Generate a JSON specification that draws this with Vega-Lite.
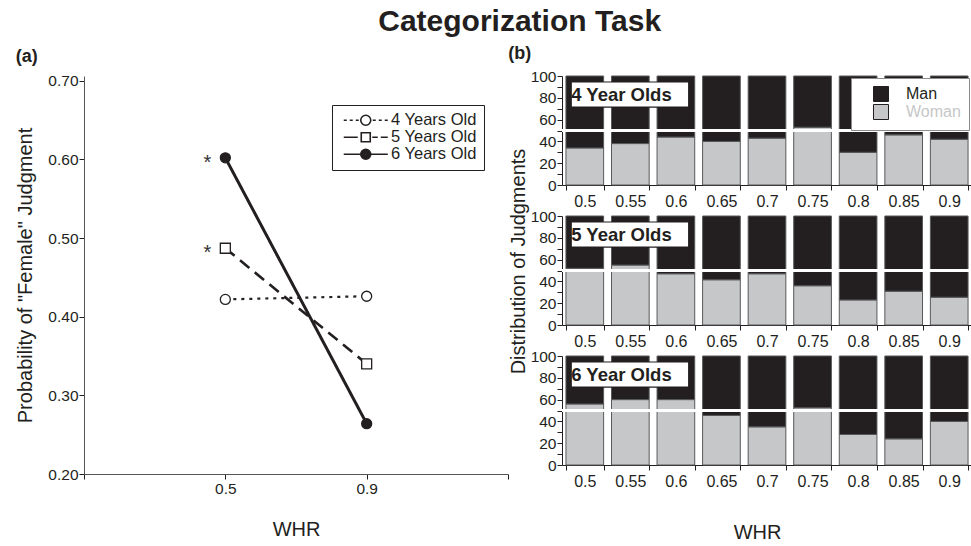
{
  "$schema": "https://vega.github.io/schema/vega-lite/v6.json",
  "background": "white",
  "padding": {"left": 15, "top": 7, "right": 0, "bottom": 0},
  "config": {
    "font": "Liberation Sans",
    "view": {"stroke": null},
    "axis": {
      "labelFont": "Liberation Sans", "titleFont": "Liberation Sans",
      "labelColor": "#231f20", "titleColor": "#231f20",
      "domainColor": "#231f20", "tickColor": "#231f20",
      "grid": false, "labelFontSize": 15.5, "titleFontSize": 20,
      "titleFontWeight": "normal", "tickSize": 5, "labelOverlap": false
    },
    "axisY": {"labelOverlap": false},
    "axisQuantitative": {"labelOverlap": false},
    "legend": {"labelFont": "Liberation Sans", "labelColor": "#231f20"},
    "title": {"font": "Liberation Sans", "color": "#231f20"}
  },
  "title": {"text": "Categorization Task", "fontSize": 30, "fontWeight": "bold", "anchor": "middle", "dx": 25, "offset": 8},
  "datasets": {
    "means": [
      {"age": "4 Years Old", "whr": 0.5, "p": 0.422, "sig": ""},
      {"age": "4 Years Old", "whr": 0.9, "p": 0.426, "sig": ""},
      {"age": "5 Years Old", "whr": 0.5, "p": 0.487, "sig": "*"},
      {"age": "5 Years Old", "whr": 0.9, "p": 0.340, "sig": ""},
      {"age": "6 Years Old", "whr": 0.5, "p": 0.602, "sig": "*"},
      {"age": "6 Years Old", "whr": 0.9, "p": 0.264, "sig": ""}
    ],
    "dist": [
      {"age": "4 Year Olds", "whr": "0.5", "gender": "Woman", "pct": 34},
      {"age": "4 Year Olds", "whr": "0.5", "gender": "Man", "pct": 66},
      {"age": "4 Year Olds", "whr": "0.55", "gender": "Woman", "pct": 38},
      {"age": "4 Year Olds", "whr": "0.55", "gender": "Man", "pct": 62},
      {"age": "4 Year Olds", "whr": "0.6", "gender": "Woman", "pct": 44},
      {"age": "4 Year Olds", "whr": "0.6", "gender": "Man", "pct": 56},
      {"age": "4 Year Olds", "whr": "0.65", "gender": "Woman", "pct": 40},
      {"age": "4 Year Olds", "whr": "0.65", "gender": "Man", "pct": 60},
      {"age": "4 Year Olds", "whr": "0.7", "gender": "Woman", "pct": 43},
      {"age": "4 Year Olds", "whr": "0.7", "gender": "Man", "pct": 57},
      {"age": "4 Year Olds", "whr": "0.75", "gender": "Woman", "pct": 53},
      {"age": "4 Year Olds", "whr": "0.75", "gender": "Man", "pct": 47},
      {"age": "4 Year Olds", "whr": "0.8", "gender": "Woman", "pct": 30},
      {"age": "4 Year Olds", "whr": "0.8", "gender": "Man", "pct": 70},
      {"age": "4 Year Olds", "whr": "0.85", "gender": "Woman", "pct": 46},
      {"age": "4 Year Olds", "whr": "0.85", "gender": "Man", "pct": 54},
      {"age": "4 Year Olds", "whr": "0.9", "gender": "Woman", "pct": 42},
      {"age": "4 Year Olds", "whr": "0.9", "gender": "Man", "pct": 58},
      {"age": "5 Year Olds", "whr": "0.5", "gender": "Woman", "pct": 52},
      {"age": "5 Year Olds", "whr": "0.5", "gender": "Man", "pct": 48},
      {"age": "5 Year Olds", "whr": "0.55", "gender": "Woman", "pct": 55},
      {"age": "5 Year Olds", "whr": "0.55", "gender": "Man", "pct": 45},
      {"age": "5 Year Olds", "whr": "0.6", "gender": "Woman", "pct": 47},
      {"age": "5 Year Olds", "whr": "0.6", "gender": "Man", "pct": 53},
      {"age": "5 Year Olds", "whr": "0.65", "gender": "Woman", "pct": 41.5},
      {"age": "5 Year Olds", "whr": "0.65", "gender": "Man", "pct": 58.5},
      {"age": "5 Year Olds", "whr": "0.7", "gender": "Woman", "pct": 47},
      {"age": "5 Year Olds", "whr": "0.7", "gender": "Man", "pct": 53},
      {"age": "5 Year Olds", "whr": "0.75", "gender": "Woman", "pct": 36},
      {"age": "5 Year Olds", "whr": "0.75", "gender": "Man", "pct": 64},
      {"age": "5 Year Olds", "whr": "0.8", "gender": "Woman", "pct": 23},
      {"age": "5 Year Olds", "whr": "0.8", "gender": "Man", "pct": 77},
      {"age": "5 Year Olds", "whr": "0.85", "gender": "Woman", "pct": 31},
      {"age": "5 Year Olds", "whr": "0.85", "gender": "Man", "pct": 69},
      {"age": "5 Year Olds", "whr": "0.9", "gender": "Woman", "pct": 25.5},
      {"age": "5 Year Olds", "whr": "0.9", "gender": "Man", "pct": 74.5},
      {"age": "6 Year Olds", "whr": "0.5", "gender": "Woman", "pct": 56},
      {"age": "6 Year Olds", "whr": "0.5", "gender": "Man", "pct": 44},
      {"age": "6 Year Olds", "whr": "0.55", "gender": "Woman", "pct": 60},
      {"age": "6 Year Olds", "whr": "0.55", "gender": "Man", "pct": 40},
      {"age": "6 Year Olds", "whr": "0.6", "gender": "Woman", "pct": 60},
      {"age": "6 Year Olds", "whr": "0.6", "gender": "Man", "pct": 40},
      {"age": "6 Year Olds", "whr": "0.65", "gender": "Woman", "pct": 45.5},
      {"age": "6 Year Olds", "whr": "0.65", "gender": "Man", "pct": 54.5},
      {"age": "6 Year Olds", "whr": "0.7", "gender": "Woman", "pct": 35},
      {"age": "6 Year Olds", "whr": "0.7", "gender": "Man", "pct": 65},
      {"age": "6 Year Olds", "whr": "0.75", "gender": "Woman", "pct": 52.5},
      {"age": "6 Year Olds", "whr": "0.75", "gender": "Man", "pct": 47.5},
      {"age": "6 Year Olds", "whr": "0.8", "gender": "Woman", "pct": 28},
      {"age": "6 Year Olds", "whr": "0.8", "gender": "Man", "pct": 72},
      {"age": "6 Year Olds", "whr": "0.85", "gender": "Woman", "pct": 24},
      {"age": "6 Year Olds", "whr": "0.85", "gender": "Man", "pct": 76},
      {"age": "6 Year Olds", "whr": "0.9", "gender": "Woman", "pct": 40},
      {"age": "6 Year Olds", "whr": "0.9", "gender": "Man", "pct": 60}
    ]
  },
  "concat": [
    {
      "width": 424,
      "height": 398,
      "title": {"text": "(a)", "anchor": "start", "fontSize": 18, "fontWeight": "bold", "offset": 8},
      "data": {"name": "means"},
      "encoding": {
        "x": {"field": "whr", "type": "quantitative", "scale": {"domain": [0.1, 1.3]},
          "axis": {"values": [0.1, 0.5, 0.9, 1.3], "labelExpr": "datum.value == 0.5 || datum.value == 0.9 ? datum.label : ''", "title": "WHR", "labelPadding": 2, "titlePadding": 23, "domainColor": "#555", "labelFlush": false, "labelOverlap": false}},
        "y": {"field": "p", "type": "quantitative", "scale": {"domain": [0.2, 0.706], "nice": false},
          "axis": {"values": [0.2, 0.3, 0.4, 0.5, 0.6, 0.7], "format": ".2f", "title": "Probability of \"Female\" Judgment", "labelPadding": 1, "titlePadding": 12, "domainColor": "#555", "labelOverlap": false}}
      },
      "layer": [
        {
          "mark": {"type": "line", "color": "#231f20"},
          "encoding": {
            "detail": {"field": "age"},
            "strokeDash": {"field": "age", "type": "nominal", "scale": {"domain": ["4 Years Old", "5 Years Old", "6 Years Old"], "range": [[3, 5], [12, 7], [1, 0]]}, "legend": null},
            "strokeWidth": {"field": "age", "type": "nominal", "scale": {"domain": ["4 Years Old", "5 Years Old", "6 Years Old"], "range": [2.2, 3, 2.5]}, "legend": null}
          }
        },
        {
          "mark": {"type": "point", "filled": true, "stroke": "#231f20", "strokeWidth": 1.3, "size": 100, "opacity": 1},
          "encoding": {
            "shape": {"field": "age", "type": "nominal", "scale": {"domain": ["4 Years Old", "5 Years Old", "6 Years Old"], "range": ["circle", "square", "circle"]}, "legend": null},
            "fill": {"field": "age", "type": "nominal", "scale": {"domain": ["4 Years Old", "5 Years Old", "6 Years Old"], "range": ["white", "white", "#231f20"]}, "legend": null}
          }
        },
        {
          "transform": [{"filter": "datum.sig === '*'"}],
          "mark": {"type": "text", "fontSize": 20, "color": "#333", "dx": -18, "dy": 5, "baseline": "middle"},
          "encoding": {"text": {"field": "sig"}}
        },
        {
          "mark": {"type": "point", "filled": false, "opacity": 0, "stroke": "#231f20", "strokeWidth": 1.6},
          "encoding": {
            "shape": {"field": "age", "type": "nominal",
              "scale": {"domain": ["4 Years Old", "5 Years Old", "6 Years Old"],
                "range": [
                  "M-4.4,0h0.6M-3.2,0h0.6M-2,0h0.6M1.4,0h0.6M2.6,0h0.6M3.8,0h0.6M-1,0a1,1 0 1,0 2,0a1,1 0 1,0 -2,0",
                  "M-4.4,0h2.8M-0.9,-0.9h1.8v1.8h-1.8zM1.3,0h1.1M3,0h1.4",
                  "M-4.4,0h3.4M1,0h3.4M-1,0a1,1 0 1,0 2,0a1,1 0 1,0 -2,0M-0.7,0a0.7,0.7 0 1,0 1.4,0a0.7,0.7 0 1,0 -1.4,0M-0.4,0a0.4,0.4 0 1,0 0.8,0a0.4,0.4 0 1,0 -0.8,0M-0.12,0a0.12,0.12 0 1,0 0.24,0a0.12,0.12 0 1,0 -0.24,0"
                ]},
              "legend": {"orient": "none", "legendX": 248, "legendY": 29, "title": null, "symbolSize": 100, "symbolOpacity": 1, "symbolStrokeColor": "#231f20", "symbolStrokeWidth": 1.6, "labelFontSize": 16.5, "padding": 7, "rowPadding": -3, "symbolOffset": 18.5, "labelOffset": 17, "fillColor": "white", "strokeColor": "#231f20"}}
          }
        }
      ],
      "resolve": {"scale": {"shape": "independent", "fill": "independent"}}
    },
    {
      "title": {"text": "(b)", "anchor": "start", "fontSize": 18, "fontWeight": "bold", "offset": 6},
      "spacing": 31,
      "bounds": "flush",
      "resolve": {"scale": {"color": "independent"}},
      "vconcat": [
        {
          "width": 410, "height": 109,
          "layer": [
            {
              "data": {"name": "dist"},
              "transform": [{"filter": "datum.age === '4 Year Olds'"}],
              "mark": {"type": "bar", "stroke": "#58595b", "strokeWidth": 1},
              "encoding": {
                "x": {"field": "whr", "type": "ordinal", "scale": {"paddingInner": 0.173, "paddingOuter": 0.0865}, "axis": {"title": null, "tickBand": "extent", "labelAngle": 0, "labelPadding": 3, "labelFontSize": 16}},
                "y": {"field": "pct", "type": "quantitative", "stack": "zero", "scale": {"domain": [0, 100]}, "axis": {"values": [0, 10, 20, 30, 40, 50, 60, 70, 80, 90, 100], "labelExpr": "datum.value % 20 === 0 ? datum.label : ''", "labelFontSize": 15.5, "labelOverlap": false, "title": null, "labelPadding": 1}},
                "color": {"field": "gender", "type": "nominal", "scale": {"domain": ["Man", "Woman"], "range": ["#231f20", "#c6c7c8"]},
                  "legend": {"orient": "none", "legendX": 289, "legendY": 2, "title": null, "symbolType": "square", "symbolSize": 225, "symbolStrokeColor": "#231f20", "symbolStrokeWidth": 1, "rowPadding": -4, "labelFontSize": 16, "padding": 8, "symbolOffset": 14, "labelOffset": 17, "fillColor": "white", "strokeColor": "#8c8c8c",
                    "encode": {"labels": {"update": {"fill": {"signal": "datum.label === 'Woman' ? '#c6c7c8' : '#231f20'"}}}}}},
                "order": {"field": "gender", "sort": "descending"}
              }
            },
            {"data": {"values": [{}]}, "mark": {"type": "rule", "color": "white", "strokeWidth": 3},
              "encoding": {"y": {"datum": 50, "type": "quantitative", "axis": {"values": [0, 10, 20, 30, 40, 50, 60, 70, 80, 90, 100], "labelExpr": "datum.value % 20 === 0 ? datum.label : ''", "labelFontSize": 15.5, "labelOverlap": false, "title": null, "labelPadding": 1}}}},
            {"data": {"values": [{}]}, "mark": {"type": "rect", "fill": "white", "stroke": "#231f20", "strokeWidth": 1.2},
              "encoding": {
                "x": {"datum": "0.5", "type": "ordinal", "bandPosition": 0.14, "axis": {"title": null, "tickBand": "extent", "labelAngle": 0, "labelPadding": 3, "labelFontSize": 16}},
                "x2": {"datum": "0.6", "bandPosition": 0.84},
                "y": {"datum": 94.5, "type": "quantitative", "axis": {"values": [0, 10, 20, 30, 40, 50, 60, 70, 80, 90, 100], "labelExpr": "datum.value % 20 === 0 ? datum.label : ''", "labelFontSize": 15.5, "labelOverlap": false, "title": null, "labelPadding": 1}},
                "y2": {"datum": 71.5}}},
            {"data": {"values": [{"label": "4 Year Olds"}]}, "mark": {"type": "text", "align": "left", "baseline": "middle", "fontSize": 18.5, "fontWeight": "bold", "color": "#231f20"},
              "encoding": {
                "x": {"datum": "0.5", "type": "ordinal", "bandPosition": 0.14, "axis": {"title": null, "tickBand": "extent", "labelAngle": 0, "labelPadding": 3, "labelFontSize": 16}},
                "y": {"datum": 83, "type": "quantitative", "axis": {"values": [0, 10, 20, 30, 40, 50, 60, 70, 80, 90, 100], "labelExpr": "datum.value % 20 === 0 ? datum.label : ''", "labelFontSize": 15.5, "labelOverlap": false, "title": null, "labelPadding": 1}},
                "text": {"field": "label"}}}
          ]
        },
        {
          "width": 410, "height": 109,
          "layer": [
            {
              "data": {"name": "dist"},
              "transform": [{"filter": "datum.age === '5 Year Olds'"}],
              "mark": {"type": "bar", "stroke": "#58595b", "strokeWidth": 1},
              "encoding": {
                "x": {"field": "whr", "type": "ordinal", "scale": {"paddingInner": 0.173, "paddingOuter": 0.0865}, "axis": {"title": null, "tickBand": "extent", "labelAngle": 0, "labelPadding": 3, "labelFontSize": 16}},
                "y": {"field": "pct", "type": "quantitative", "stack": "zero", "scale": {"domain": [0, 100]}, "axis": {"values": [0, 10, 20, 30, 40, 50, 60, 70, 80, 90, 100], "labelExpr": "datum.value % 20 === 0 ? datum.label : ''", "labelFontSize": 15.5, "labelOverlap": false, "title": "Distribution of Judgments", "titleFontSize": 20, "titlePadding": 2, "titleY": 45, "labelPadding": 1}},
                "color": {"field": "gender", "type": "nominal", "scale": {"domain": ["Man", "Woman"], "range": ["#231f20", "#c6c7c8"]}, "legend": null},
                "order": {"field": "gender", "sort": "descending"}
              }
            },
            {"data": {"values": [{}]}, "mark": {"type": "rule", "color": "white", "strokeWidth": 3},
              "encoding": {"y": {"datum": 50, "type": "quantitative", "axis": {"values": [0, 10, 20, 30, 40, 50, 60, 70, 80, 90, 100], "labelExpr": "datum.value % 20 === 0 ? datum.label : ''", "labelFontSize": 15.5, "labelOverlap": false, "title": "Distribution of Judgments", "titleFontSize": 20, "titlePadding": 2, "titleY": 45, "labelPadding": 1}}}},
            {"data": {"values": [{}]}, "mark": {"type": "rect", "fill": "white", "stroke": "#231f20", "strokeWidth": 1.2},
              "encoding": {
                "x": {"datum": "0.5", "type": "ordinal", "bandPosition": 0.14, "axis": {"title": null, "tickBand": "extent", "labelAngle": 0, "labelPadding": 3, "labelFontSize": 16}},
                "x2": {"datum": "0.6", "bandPosition": 0.84},
                "y": {"datum": 94.5, "type": "quantitative", "axis": {"values": [0, 10, 20, 30, 40, 50, 60, 70, 80, 90, 100], "labelExpr": "datum.value % 20 === 0 ? datum.label : ''", "labelFontSize": 15.5, "labelOverlap": false, "title": "Distribution of Judgments", "titleFontSize": 20, "titlePadding": 2, "titleY": 45, "labelPadding": 1}},
                "y2": {"datum": 71.5}}},
            {"data": {"values": [{"label": "5 Year Olds"}]}, "mark": {"type": "text", "align": "left", "baseline": "middle", "fontSize": 18.5, "fontWeight": "bold", "color": "#231f20"},
              "encoding": {
                "x": {"datum": "0.5", "type": "ordinal", "bandPosition": 0.14, "axis": {"title": null, "tickBand": "extent", "labelAngle": 0, "labelPadding": 3, "labelFontSize": 16}},
                "y": {"datum": 83, "type": "quantitative", "axis": {"values": [0, 10, 20, 30, 40, 50, 60, 70, 80, 90, 100], "labelExpr": "datum.value % 20 === 0 ? datum.label : ''", "labelFontSize": 15.5, "labelOverlap": false, "title": "Distribution of Judgments", "titleFontSize": 20, "titlePadding": 2, "titleY": 45, "labelPadding": 1}},
                "text": {"field": "label"}}}
          ]
        },
        {
          "width": 410, "height": 109,
          "layer": [
            {
              "data": {"name": "dist"},
              "transform": [{"filter": "datum.age === '6 Year Olds'"}],
              "mark": {"type": "bar", "stroke": "#58595b", "strokeWidth": 1},
              "encoding": {
                "x": {"field": "whr", "type": "ordinal", "scale": {"paddingInner": 0.173, "paddingOuter": 0.0865}, "axis": {"title": "WHR", "titlePadding": 33, "titleX": 195, "tickBand": "extent", "labelAngle": 0, "labelPadding": 3, "labelFontSize": 16}},
                "y": {"field": "pct", "type": "quantitative", "stack": "zero", "scale": {"domain": [0, 100]}, "axis": {"values": [0, 10, 20, 30, 40, 50, 60, 70, 80, 90, 100], "labelExpr": "datum.value % 20 === 0 ? datum.label : ''", "labelFontSize": 15.5, "labelOverlap": false, "title": null, "labelPadding": 1}},
                "color": {"field": "gender", "type": "nominal", "scale": {"domain": ["Man", "Woman"], "range": ["#231f20", "#c6c7c8"]}, "legend": null},
                "order": {"field": "gender", "sort": "descending"}
              }
            },
            {"data": {"values": [{}]}, "mark": {"type": "rule", "color": "white", "strokeWidth": 3},
              "encoding": {"y": {"datum": 50, "type": "quantitative", "axis": {"values": [0, 10, 20, 30, 40, 50, 60, 70, 80, 90, 100], "labelExpr": "datum.value % 20 === 0 ? datum.label : ''", "labelFontSize": 15.5, "labelOverlap": false, "title": null, "labelPadding": 1}}}},
            {"data": {"values": [{}]}, "mark": {"type": "rect", "fill": "white", "stroke": "#231f20", "strokeWidth": 1.2},
              "encoding": {
                "x": {"datum": "0.5", "type": "ordinal", "bandPosition": 0.14, "axis": {"title": "WHR", "titlePadding": 33, "titleX": 195, "tickBand": "extent", "labelAngle": 0, "labelPadding": 3, "labelFontSize": 16}},
                "x2": {"datum": "0.6", "bandPosition": 0.84},
                "y": {"datum": 94.5, "type": "quantitative", "axis": {"values": [0, 10, 20, 30, 40, 50, 60, 70, 80, 90, 100], "labelExpr": "datum.value % 20 === 0 ? datum.label : ''", "labelFontSize": 15.5, "labelOverlap": false, "title": null, "labelPadding": 1}},
                "y2": {"datum": 71.5}}},
            {"data": {"values": [{"label": "6 Year Olds"}]}, "mark": {"type": "text", "align": "left", "baseline": "middle", "fontSize": 18.5, "fontWeight": "bold", "color": "#231f20"},
              "encoding": {
                "x": {"datum": "0.5", "type": "ordinal", "bandPosition": 0.14, "axis": {"title": "WHR", "titlePadding": 33, "titleX": 195, "tickBand": "extent", "labelAngle": 0, "labelPadding": 3, "labelFontSize": 16}},
                "y": {"datum": 83, "type": "quantitative", "axis": {"values": [0, 10, 20, 30, 40, 50, 60, 70, 80, 90, 100], "labelExpr": "datum.value % 20 === 0 ? datum.label : ''", "labelFontSize": 15.5, "labelOverlap": false, "title": null, "labelPadding": 1}},
                "text": {"field": "label"}}}
          ]
        }
      ]
    }
  ],
  "columns": 2,
  "align": "each",
  "spacing": -1
}
